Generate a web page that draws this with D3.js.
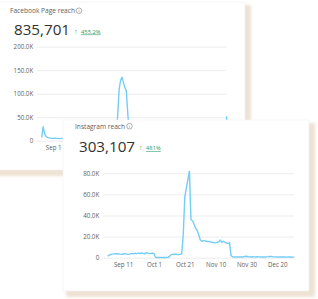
<!DOCTYPE html>
<html>
<head>
<meta charset="utf-8">
<script src="https://cdn.jsdelivr.net/npm/d3@7"></script>
<style>
  html, body { margin: 0; padding: 0; background: #fff; }
  svg { display: block; font-family: "Open Sans", sans-serif; }
</style>
</head>
<body>
<div id="chart"></div>
<script>
// facebook page reach, daily (K), day offsets from Aug 24
const fbDay = [0, 1, 2, 3, 4, 5, 6, 7, 8, 9, 10, 11, 12, 13, 14, 15, 20, 27, 34, 41, 48, 51,
  52, 53, 54, 55, 56, 57, 58, 59, 60, 61, 62, 69, 76, 83, 90, 97, 104, 111, 118, 125, 128, 129];
const fbReach = [7, 30, 15, 9, 7, 6, 5.5, 5, 5, 5.5, 5, 5, 5, 4.5, 5, 5, 6, 5, 7, 6, 8, 9,
  12, 55, 110, 128, 135, 124, 113, 106, 58, 18, 10, 9, 8, 10, 7, 6, 5, 6, 5, 4, 3, 52];
const fbTicks = [0, 50, 100, 150, 200];
// only the first date label shows, the rest sits under the instagram card
const fbDateTicks = ["2023-09-01"];

// instagram reach, daily (K), Sep 1 .. Dec 31
const igReach = [
  1.5, 2.5, 3.2, 3.4, 3.6, 3.9, 3.5, 3.8, 3.4, 3.1, 3.5, 3.9, 3.6, 3.2, 3.4, 3.8, 4.1, 3.7, 4.3, 3.9,
  4.4, 4.0, 4.5, 4.1, 3.6, 4.8, 4.4, 3.9, 4.0, 4.4, 3.9,
  0.4, 0.2, 0.2, 0.2, 0.2, 0.3, 0.2, 0.2, 0.3,
  1.2, 2.6, 3.1, 3.4, 3.3, 3.0, 2.9, 3.2, 3.8,
  22, 58, 66, 74, 82,
  36, 35, 32, 28, 26, 22, 17, 15.5,
  16.2, 16.0, 15.6, 15.2, 15.4, 14.8, 14.6, 14.2, 14.0, 14.5, 15.0, 16.8, 14.4, 15.6, 14.6, 14.0, 13.4, 14.2,
  2.0, 0.9, 0.7, 0.6, 0.7, 0.6, 0.8, 0.7, 0.9, 1.2, 1.4, 0.9, 0.8, 0.7, 0.9, 0.8, 0.7, 0.9, 0.8, 0.7,
  0.8, 0.6, 0.7, 0.8, 1.0, 1.3, 1.1, 0.9, 0.8, 0.8, 0.7, 0.6, 0.7, 0.8, 0.7, 0.6, 0.5, 0.6, 0.7, 0.6,
  0.5, 0.5];
const igTicks = [0, 20, 40, 60, 80];
const igDateTicks = ["2023-09-11", "2023-10-01", "2023-10-21", "2023-11-10", "2023-11-30", "2023-12-20"];

const W = 318, H = 299;
const LINE = "#74cdf8", GRID = "#ebebeb", TXT = "#605e5c", DARK = "#323130", GREEN = "#2e9a63";
const parse = d3.timeParse("%Y-%m-%d");
const fmtK = d => d === 0 ? "0" : d3.format(".1f")(d) + "K";
const fmtDate = d3.timeFormat("%b %-d");

const svg = d3.select("#chart").append("svg")
  .attr("width", W).attr("height", H);

svg.append("defs").append("filter").attr("id", "soft")
  .attr("x", "-20%").attr("y", "-20%").attr("width", "140%").attr("height", "140%")
  .append("feGaussianBlur").attr("stdDeviation", 1.6);

const card = (x, y, w, h) => {
  svg.append("rect").attr("x", x + 3).attr("y", y + 3).attr("width", w + 3).attr("height", h + 3)
    .attr("fill", "#eee2d3").attr("filter", "url(#soft)");
  svg.append("rect").attr("x", x).attr("y", y).attr("width", w).attr("height", h)
    .attr("fill", "#fff").attr("stroke", "#f1f1f1").attr("stroke-width", 0.6);
};

const header = (x, y, title, iconX, value, pct, numY) => {
  svg.append("text").attr("x", x).attr("y", y).attr("font-size", 6.6).attr("fill", TXT).text(title);
  const ic = svg.append("g").attr("transform", `translate(${iconX},${y - 2.3})`);
  ic.append("circle").attr("r", 2.8).attr("fill", "none").attr("stroke", TXT).attr("stroke-width", 0.5);
  ic.append("text").attr("y", 1.6).attr("text-anchor", "middle").attr("font-size", 4.2).attr("fill", TXT).text("i");
  const num = svg.append("text").attr("x", x + 4).attr("y", numY).attr("font-size", 15.2).attr("fill", DARK).text(value);
  const nw = num.node().getComputedTextLength();
  svg.append("text").attr("x", x + 4 + nw + 4).attr("y", numY - 1.5).attr("font-size", 7).attr("fill", GREEN).text("↑");
  svg.append("text").attr("x", x + 4 + nw + 11).attr("y", numY - 1.5).attr("font-size", 5.8).attr("fill", GREEN)
    .attr("text-decoration", "underline").text(pct);
};

const chart = (dates, vals, x, y, ticks, dateTicks) => {
  const g = svg.append("g");
  const yAxis = g.append("g").attr("transform", `translate(${x.range()[0] - 5},0)`)
    .call(d3.axisLeft(y).tickValues(ticks).tickFormat(fmtK)
      .tickSizeInner(-(x.range()[1] - x.range()[0] + 5)).tickSizeOuter(0).tickPadding(3.5));
  yAxis.select(".domain").remove();
  yAxis.selectAll("line").attr("stroke", GRID).attr("stroke-width", 0.9);
  yAxis.selectAll("text").attr("fill", TXT).attr("font-size", 6.2).attr("font-family", "Open Sans");

  const xAxis = g.append("g").attr("transform", `translate(0,${y(0)})`)
    .call(d3.axisBottom(x).tickValues(dateTicks.map(parse)).tickFormat(fmtDate).tickSize(0).tickPadding(4.8));
  xAxis.select(".domain").remove();
  xAxis.selectAll("text").attr("fill", TXT).attr("font-size", 6.2).attr("font-family", "Open Sans");

  g.append("path").datum(vals)
    .attr("fill", "none").attr("stroke", LINE).attr("stroke-width", 1.4).attr("stroke-linejoin", "round")
    .attr("d", d3.line().x((d, i) => x(dates[i])).y(d => y(d)));
};

// ---- Facebook card (behind)
card(-6, 2, 251, 168);
header(10, 13, "Facebook Page reach", 79, "835,701", "455.2%", 35);
const fbStart = parse("2023-08-24");
const fbX = d3.scaleTime().domain([fbStart, d3.timeDay.offset(fbStart, 129)]).range([41.7, 226.7]);
const fbY = d3.scaleLinear().domain([0, 200]).range([140.7, 46.7]);
chart(fbDay.map(d => d3.timeDay.offset(fbStart, d)), fbReach, fbX, fbY, fbTicks, fbDateTicks);

// ---- Instagram card (front)
card(63, 120, 246, 171);
header(75, 128.5, "Instagram reach", 129.5, "303,107", "481%", 151.7);
const igStart = parse("2023-09-01");
const igX = d3.scaleTime().domain([igStart, d3.timeDay.offset(igStart, 121)]).range([107.7, 294.3]);
const igY = d3.scaleLinear().domain([0, 80]).range([257.7, 173.3]);
chart(igReach.map((d, i) => d3.timeDay.offset(igStart, i)), igReach, igX, igY, igTicks, igDateTicks);
</script>
</body>
</html>
